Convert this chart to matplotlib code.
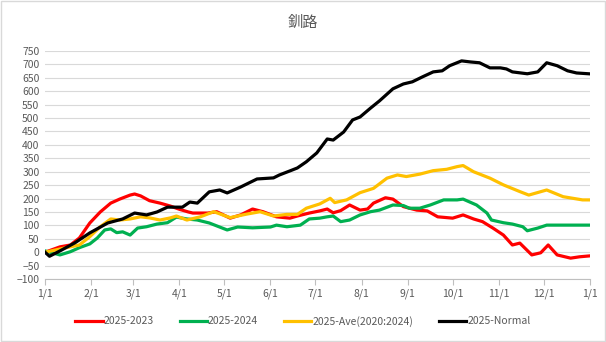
import numpy as np
import matplotlib
matplotlib.use("Agg")
import matplotlib.pyplot as plt
from matplotlib.patches import Rectangle

plt.rcParams['font.family'] = ['Noto Sans CJK JP', 'DejaVu Sans']

title = "釧路"
month_days = [0, 31, 59, 90, 120, 151, 181, 212, 243, 273, 304, 334, 365]
month_labels = ["1/1", "2/1", "3/1", "4/1", "5/1", "6/1", "7/1", "8/1",
                "9/1", "10/1", "11/1", "12/1", "1/1"]

# 2025-2023 (red)
red_d = [0, 10, 17, 23, 30, 37, 44, 50, 57, 60, 64, 70, 77, 84, 90, 96, 99,
         109, 115, 124, 131, 139, 146, 155, 164, 169, 177, 184, 189, 193, 198,
         204, 211, 216, 220, 228, 233, 240, 249, 256, 263, 273, 280, 287, 293,
         300, 307, 313, 318, 326, 332, 337, 343, 352, 358, 364]
red_v = [0, 20, 27, 53, 109, 150, 183, 198, 213, 217, 210, 192, 183, 172, 160,
         150, 146, 146, 151, 127, 139, 161, 151, 132, 127, 135, 146, 154, 161,
         147, 155, 176, 157, 161, 183, 203, 198, 170, 157, 154, 132, 127, 139,
         124, 114, 90, 64, 27, 34, -10, -2, 27, -10, -22, -17, -14]

# 2025-2024 (green)
green_d = [0, 10, 17, 23, 30, 35, 40, 44, 48, 52, 57, 62, 68, 75, 82, 88, 95,
           102, 110, 122, 129, 139, 151, 155, 162, 171, 177, 184, 189, 193,
           198, 204, 211, 218, 224, 233, 240, 244, 251, 258, 267, 276, 280,
           289, 296, 299, 307, 313, 320, 323, 330, 336, 364]
green_v = [5, -10, 2, 17, 31, 53, 83, 87, 73, 76, 64, 90, 95, 105, 110, 131,
           124, 120, 109, 83, 94, 91, 94, 101, 95, 101, 124, 127, 132, 135, 114,
           120, 139, 151, 157, 176, 174, 164, 164, 176, 195, 195, 198, 176, 146,
           120, 110, 105, 95, 80, 90, 101, 101]

# 2025-Ave(2020:2024) (yellow)
ave_d = [0, 10, 23, 30, 37, 44, 50, 57, 64, 70, 77, 84, 88, 95, 104, 113, 124,
         135, 144, 153, 162, 169, 175, 184, 191, 194, 202, 211, 220, 229, 236,
         242, 251, 260, 269, 276, 280, 287, 298, 307, 318, 324, 336, 347, 360,
         364]
ave_v = [0, 12, 27, 58, 95, 124, 120, 124, 132, 128, 120, 128, 135, 120, 132,
         151, 129, 142, 151, 135, 141, 141, 164, 180, 201, 185, 195, 222, 238,
         276, 288, 282, 291, 304, 309, 319, 323, 300, 276, 251, 226, 213, 232,
         207, 195, 195]

# 2025-Normal (black)
norm_d = [0, 3, 10, 20, 30, 42, 52, 60, 68, 75, 82, 92, 97, 102, 110, 117, 122,
          131, 142, 153, 157, 164, 169, 175, 182, 189, 193, 200, 206, 211, 218,
          224, 233, 240, 246, 253, 260, 266, 271, 279, 285, 291, 298, 305, 309,
          313, 323, 330, 336, 343, 350, 356, 364]
norm_v = [0, -15, 5, 35, 72, 109, 124, 146, 139, 150, 168, 168, 187, 183, 225,
          232, 221, 243, 273, 277, 288, 303, 314, 337, 370, 422, 418, 448, 493,
          504, 537, 564, 609, 627, 635, 654, 672, 676, 695, 713, 709, 706, 687,
          687, 683, 672, 665, 672, 706, 695, 676, 668, 665]

grey = "#595959"
fig = plt.figure(figsize=(6.06, 3.42), dpi=100)
ax = fig.add_axes([0.0743, 0.184, 0.8993, 0.667])

ax.plot(red_d, red_v, color="#ff0000", lw=2.3, label="2025-2023")
ax.plot(green_d, green_v, color="#00b050", lw=2.3, label="2025-2024")
ax.plot(ave_d, ave_v, color="#ffc000", lw=2.3, label="2025-Ave(2020:2024)")
ax.plot(norm_d, norm_v, color="#000000", lw=2.3, label="2025-Normal")

ax.set_xlim(0, 365)
ax.set_ylim(-100, 750)
ax.set_yticks(range(-100, 751, 50))
ax.set_xticks(month_days)
ax.set_xticklabels(month_labels)
ax.grid(axis="y", color="#d9d9d9", lw=0.8)
ax.set_axisbelow(True)
for s in ["top", "right", "left"]:
    ax.spines[s].set_visible(False)
ax.spines["bottom"].set_color("#bfbfbf")
ax.tick_params(axis="y", length=0, labelsize=7.5, labelcolor=grey, pad=4)
ax.tick_params(axis="x", length=4, color="#bfbfbf", labelsize=7.5,
               labelcolor=grey, pad=3)

fig.text(0.5, 0.935, title, ha="center", va="center", fontsize=11, color=grey)
fig.legend(loc="center", bbox_to_anchor=(0.5, 0.061), ncol=4, frameon=False,
           fontsize=7.5, handlelength=2.6, handletextpad=0.1, columnspacing=2.5,
           labelcolor=grey)

fig.patches.append(Rectangle((0.001, 0.002), 0.997, 0.995, transform=fig.transFigure,
                             fill=False, edgecolor="#d9d9d9", lw=1))

fig.savefig("out.png", dpi=100)
